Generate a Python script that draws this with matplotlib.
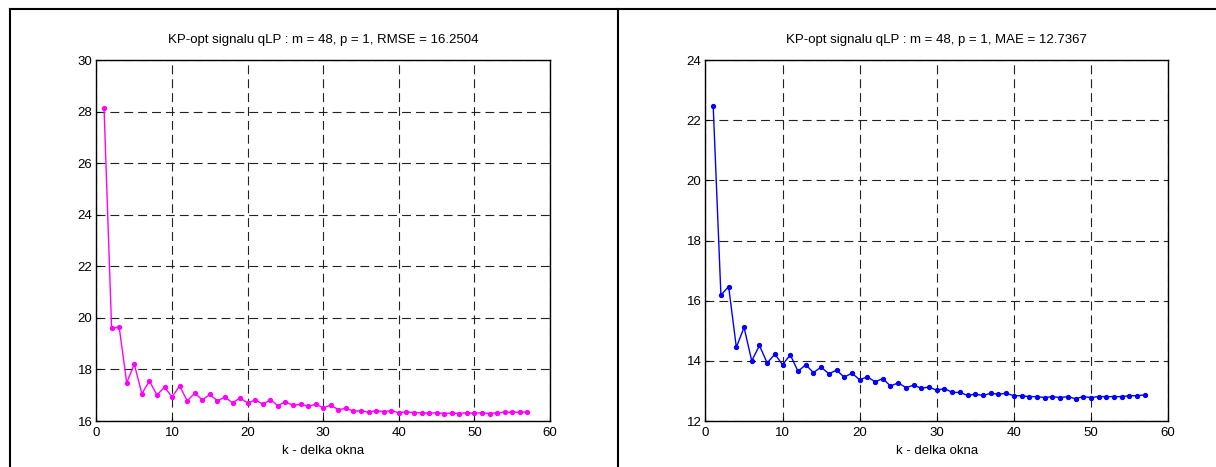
import matplotlib
matplotlib.use("Agg")
from matplotlib import pyplot as plt
from matplotlib.lines import Line2D

plt.rcParams['font.family'] = ['Liberation Sans', 'DejaVu Sans']
plt.rcParams['font.size'] = 9.5

k = list(range(1, 58))

rmse = [28.12, 19.59, 19.64, 17.48, 18.21, 17.06, 17.55, 17.01, 17.31, 16.93,
        17.36, 16.78, 17.08, 16.82, 17.03, 16.78, 16.93, 16.70, 16.90, 16.69,
        16.82, 16.65, 16.82, 16.60, 16.74, 16.61, 16.65, 16.57, 16.65, 16.52,
        16.61, 16.44, 16.49, 16.38, 16.40, 16.34, 16.40, 16.36, 16.40, 16.32,
        16.36, 16.32, 16.32, 16.30, 16.32, 16.29, 16.31, 16.29, 16.32, 16.30,
        16.32, 16.29, 16.32, 16.34, 16.34, 16.34, 16.36]

mae = [22.46, 16.18, 16.47, 14.45, 15.11, 14.00, 14.51, 13.93, 14.22, 13.87,
       14.20, 13.65, 13.87, 13.61, 13.79, 13.57, 13.69, 13.46, 13.59, 13.37,
       13.47, 13.30, 13.41, 13.16, 13.27, 13.11, 13.19, 13.09, 13.13, 13.02,
       13.08, 12.95, 12.95, 12.85, 12.89, 12.85, 12.92, 12.89, 12.92, 12.84,
       12.84, 12.81, 12.81, 12.78, 12.81, 12.78, 12.81, 12.74, 12.81, 12.78,
       12.81, 12.81, 12.81, 12.81, 12.84, 12.84, 12.87]

titles = ["KP-opt signalu qLP : m = 48, p = 1, RMSE = 16.2504",
          "KP-opt signalu qLP : m = 48, p = 1, MAE = 12.7367"]
colors = ["#ff00ff", "#0000ff"]
ylims = [(16, 30), (12, 24)]

W, H = 1216, 467
fig = plt.figure(figsize=(W / 100, H / 100), dpi=100)

# axes boxes in pixels: left, right, top, bottom
boxes = [(96.5, 550, 60, 421), (705.5, 1168, 60, 421)]

for box, y, title, color, ylim in zip(boxes, [rmse, mae], titles, colors, ylims):
    l, r, t, b = box
    ax = fig.add_axes([l / W, 1 - b / H, (r - l) / W, (b - t) / H])
    ax.plot(k, y, color=color, lw=1, marker='o', markersize=2.8)
    ax.set_xlim(0, 60)
    ax.set_ylim(*ylim)
    ax.set_xticks(range(0, 61, 10))
    ax.set_yticks(range(ylim[0], ylim[1] + 1, 2))
    ax.grid(True, color='#222222', linestyle=(0, (8, 4.5)), linewidth=0.8)
    ax.tick_params(direction='in', length=3, pad=3, labelsize=9.5)
    ax.tick_params(axis='x', pad=4.5)
    ax.set_title(title, fontsize=9.5, pad=12)
    ax.set_xlabel("k - delka okna", fontsize=9.5, labelpad=4)
    for s in ax.spines.values():
        s.set_linewidth(1)

# outer frame
lw = 1.5
fig.add_artist(Line2D([10 / W, 10 / W], [0, 1 - 8.7 / H], transform=fig.transFigure, color='black', lw=lw))
fig.add_artist(Line2D([10 / W, 1], [1 - 8.7 / H, 1 - 8.7 / H], transform=fig.transFigure, color='black', lw=lw))
fig.add_artist(Line2D([618 / W, 618 / W], [0, 1 - 8.7 / H], transform=fig.transFigure, color='black', lw=lw))

fig.savefig("out.png", dpi=100)
